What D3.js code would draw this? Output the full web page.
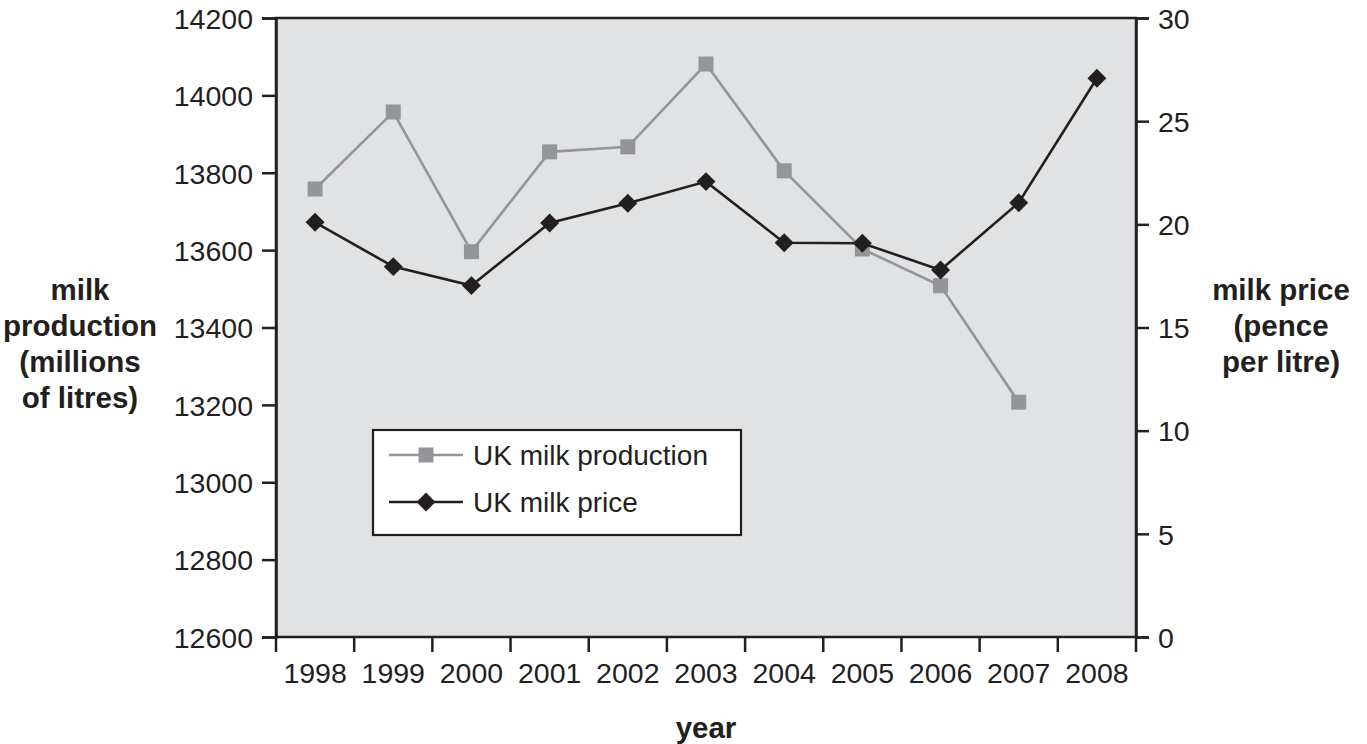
<!DOCTYPE html>
<html>
<head>
<meta charset="utf-8">
<script src="https://cdn.jsdelivr.net/npm/d3@7"></script>
<style>
  html, body { margin: 0; padding: 0; background: #fff; }
  svg { display: block; font-family: "Liberation Sans", Arial, Helvetica, sans-serif; }
</style>
</head>
<body>
<svg id="chart" width="1367" height="744"></svg>
<script>
// UK milk production (millions of litres) and farm-gate price (pence per litre)
const years = ["1998", "1999", "2000", "2001", "2002", "2003", "2004", "2005", "2006", "2007", "2008"];
const production = [13758, 13957, 13596, 13854, 13867, 14081, 13805, 13603, 13508, 13207, null];
const price = [20.1, 17.95, 17.03, 20.07, 21.02, 22.07, 19.11, 19.08, 17.79, 21.05, 27.08];
const productionTicks = [12600, 12800, 13000, 13200, 13400, 13600, 13800, 14000, 14200];
const priceTicks = [0, 5, 10, 15, 20, 25, 30];

const ink = "#231f20";
const grey = "#939598";
const panel = "#e1e2e4";

const svg = d3.select("#chart");
const m = { top: 18, right: 231, bottom: 107, left: 276 };
const W = 1367, H = 744;
const iw = W - m.left - m.right, ih = H - m.top - m.bottom;

const g = svg.append("g").attr("transform", `translate(${m.left},${m.top})`);

const x = d3.scaleBand().domain(years).range([0, iw]).padding(0);
const xEdge = d3.scaleLinear().domain([0, years.length]).range([0, iw]);
const yL = d3.scaleLinear().domain([12600, 14200]).range([ih, 0]);
const yR = d3.scaleLinear().domain([0, 30]).range([ih, 0]);

// plot panel
g.append("rect").attr("width", iw).attr("height", ih).attr("fill", panel);

// left axis
const left = g.append("g")
  .call(d3.axisLeft(yL).tickValues(productionTicks).tickSize(14).tickPadding(9).tickFormat(d3.format("d")));
// right axis
const right = g.append("g").attr("transform", `translate(${iw},0)`)
  .call(d3.axisRight(yR).tickValues(priceTicks).tickSize(13).tickPadding(9).tickFormat(d3.format("d")));
// bottom axis: labels centred in each year, ticks on the year boundaries
const bottom = g.append("g").attr("transform", `translate(0,${ih})`)
  .call(d3.axisBottom(x).tickSize(0).tickPadding(26));
bottom.select(".domain").remove();
g.append("g").attr("transform", `translate(0,${ih})`)
  .selectAll("line").data(d3.range(years.length + 1)).join("line")
  .attr("x1", d => xEdge(d)).attr("x2", d => xEdge(d))
  .attr("y1", 0).attr("y2", 15)
  .attr("stroke", ink).attr("stroke-width", 2.5);

[left, right, bottom].forEach(a => {
  a.selectAll(".domain").attr("stroke", ink).attr("stroke-width", 2.5);
  a.selectAll(".tick line").attr("stroke", ink).attr("stroke-width", 2.5);
  a.selectAll(".tick text").attr("fill", ink).attr("font-size", 28.5)
    .attr("font-family", "Liberation Sans, Arial, sans-serif");
});
left.selectAll(".tick text").attr("dy", "0.36em");
right.selectAll(".tick text").attr("dy", "0.36em");

// frame
g.append("rect").attr("width", iw).attr("height", ih)
  .attr("fill", "none").attr("stroke", ink).attr("stroke-width", 2.5);

const cx = d => x(d) + x.bandwidth() / 2;
const squareSym = d3.symbol().type(d3.symbolSquare).size(225);
const diamondSym = d3.symbol().type(d3.symbolSquare).size(180);

// production series
const prodPts = years.map((yr, i) => ({ yr, v: production[i] })).filter(d => d.v !== null);
g.append("path").datum(prodPts)
  .attr("fill", "none").attr("stroke", grey).attr("stroke-width", 2.6)
  .attr("d", d3.line().x(d => cx(d.yr)).y(d => yL(d.v)));
g.selectAll(".sq").data(prodPts).join("path").attr("class", "sq")
  .attr("d", squareSym).attr("fill", grey)
  .attr("transform", d => `translate(${cx(d.yr)},${yL(d.v)})`);

// price series
const pricePts = years.map((yr, i) => ({ yr, v: price[i] }));
g.append("path").datum(pricePts)
  .attr("fill", "none").attr("stroke", ink).attr("stroke-width", 2.6)
  .attr("d", d3.line().x(d => cx(d.yr)).y(d => yR(d.v)));
g.selectAll(".dm").data(pricePts).join("path").attr("class", "dm")
  .attr("d", diamondSym).attr("fill", ink)
  .attr("transform", d => `translate(${cx(d.yr)},${yR(d.v)}) rotate(45)`);

// legend
const lg = svg.append("g").attr("transform", "translate(373,430)");
lg.append("rect").attr("width", 368).attr("height", 105)
  .attr("fill", "#fff").attr("stroke", ink).attr("stroke-width", 2.2);
const items = [
  { label: "UK milk production", color: grey, sym: squareSym, rot: 0, y: 25 },
  { label: "UK milk price", color: ink, sym: diamondSym, rot: 45, y: 72 }
];
items.forEach(it => {
  lg.append("line").attr("x1", 16).attr("x2", 90).attr("y1", it.y).attr("y2", it.y)
    .attr("stroke", it.color).attr("stroke-width", 2.4);
  lg.append("path").attr("d", it.sym).attr("fill", it.color)
    .attr("transform", `translate(53,${it.y}) rotate(${it.rot})`);
  lg.append("text").attr("x", 100).attr("y", it.y).attr("dy", "0.36em")
    .attr("font-size", 28).attr("fill", ink).text(it.label);
});

// axis titles
const title = (lines, x0, y0) => {
  const t = svg.append("text").attr("text-anchor", "middle").attr("font-weight", "bold")
    .attr("font-size", 29.5).attr("fill", ink);
  lines.forEach((s, i) => t.append("tspan").attr("x", x0).attr("y", y0 + i * 36).text(s));
};
title(["milk", "production", "(millions", "of litres)"], 80, 300);
title(["milk price", "(pence", "per litre)"], 1281, 300);
title(["year"], 706, 738);
</script>
</body>
</html>
